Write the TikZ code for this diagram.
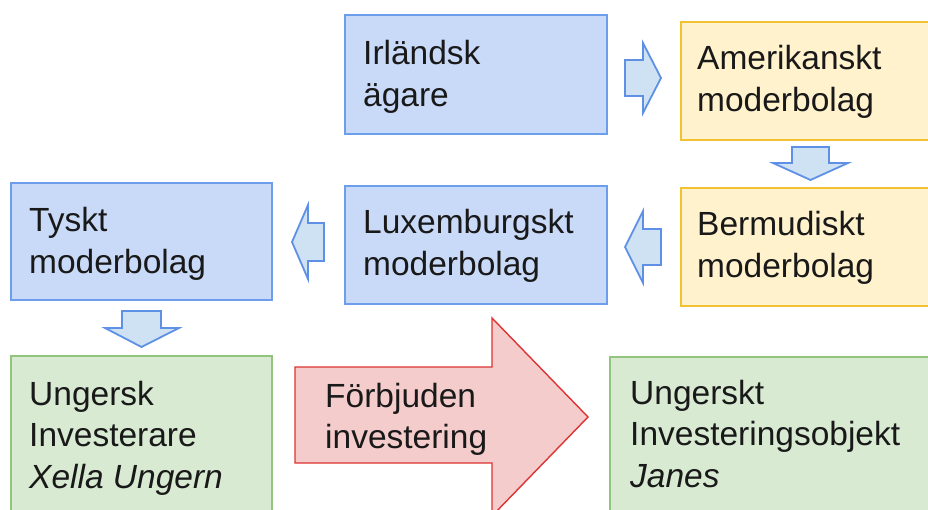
\documentclass[tikz,border=0pt]{standalone}
\usepackage{fontspec}
\setmainfont{Liberation Sans}
\usetikzlibrary{calc}
\definecolor{bfill}{HTML}{C9DAF8}
\definecolor{bline}{HTML}{6D9EEB}
\definecolor{yfill}{HTML}{FFF2CC}
\definecolor{yline}{HTML}{F1C232}
\definecolor{gfill}{HTML}{D9EAD3}
\definecolor{gline}{HTML}{93C47D}
\definecolor{rfill}{HTML}{F4CCCC}
\definecolor{rline}{HTML}{DD3333}
\definecolor{afill}{HTML}{CFE2F3}
\definecolor{aline}{HTML}{5E90E6}
\tikzset{
  bluebox/.style={fill=bfill,draw=bline,line width=1.6pt},
  yellowbox/.style={fill=yfill,draw=yline,line width=1.6pt},
  greenbox/.style={fill=gfill,draw=gline,line width=1.6pt},
  blockarrow/.style={fill=afill,draw=aline,line width=1.8pt,line join=miter},
  redarrow/.style={fill=rfill,draw=rline,line width=1.4pt,line join=miter},
  label/.style={anchor=base west,inner sep=0pt,align=left,font=\fontsize{33.5}{41.5}\selectfont,text=black!90}
}
\begin{document}
\begin{tikzpicture}[x=1pt,y=-1pt]
\useasboundingbox (0,0) rectangle (928,510);
\clip (0,0) rectangle (928,510);
% boxes
\path[bluebox] (345,15) rectangle (607,134);
\coordinate (irl) at (345,15);
\path[yellowbox] (681,22) rectangle (945,140);
\coordinate (ame) at (681,22);
\path[yellowbox] (681,188) rectangle (945,306);
\coordinate (ber) at (681,188);
\path[bluebox] (345,186) rectangle (607,304);
\coordinate (lux) at (345,186);
\path[bluebox] (11,183) rectangle (272,300);
\coordinate (tys) at (11,183);
\path[greenbox] (11,356) rectangle (272,530);
\coordinate (ung) at (11,356);
\path[greenbox] (610,357) rectangle (945,530);
\coordinate (obj) at (610,357);
% block arrows
\draw[blockarrow] (625,60) -- (643,60) -- (643,43) -- (661,78) -- (643,113) -- (643,96) -- (625,96) -- cycle;
\draw[blockarrow] (792,147) -- (829,147) -- (829,163) -- (848,163) -- (810.5,180) -- (773,163) -- (792,163) -- cycle;
\draw[blockarrow] (661,229) -- (643,229) -- (643,211) -- (625,247) -- (643,283) -- (643,265) -- (661,265) -- cycle;
\draw[blockarrow] (324,223) -- (308,223) -- (308,205) -- (292,242) -- (308,279) -- (308,261) -- (324,261) -- cycle;
\draw[blockarrow] (122,311) -- (161,311) -- (161,328) -- (179,328) -- (141.5,347) -- (105,328) -- (122,328) -- cycle;
\draw[redarrow] (295,367) -- (492,367) -- (492,318) -- (588,417) -- (492,516) -- (492,463) -- (295,463) -- cycle;
% texts (anchor = baseline of last line)
\node[label] (tirl) at ($(irl)+(18,50+41.5)$) {Irländsk\\ägare};
\node[label] (tame) at ($(ame)+(16,48+41.5)$) {Amerikanskt\\moderbolag};
\node[label] (tber) at ($(ber)+(16,48+41.5)$) {Bermudiskt\\moderbolag};
\node[label] (tlux) at ($(lux)+(18,48+41.5)$) {Luxemburgskt\\moderbolag};
\node[label] (ttys) at ($(tys)+(18,49+41.5)$) {Tyskt\\moderbolag};
\node[label] (tung) at ($(ung)+(18,49+83)$) {Ungersk\\Investerare\\\textit{Xella Ungern}};
\node[label] (tobj) at ($(obj)+(20,47+83)$) {Ungerskt\\Investeringsobjekt\\\textit{Janes}};
\node[label] (tred) at (325,407+41.5) {Förbjuden\\investering};
\end{tikzpicture}
\end{document}
